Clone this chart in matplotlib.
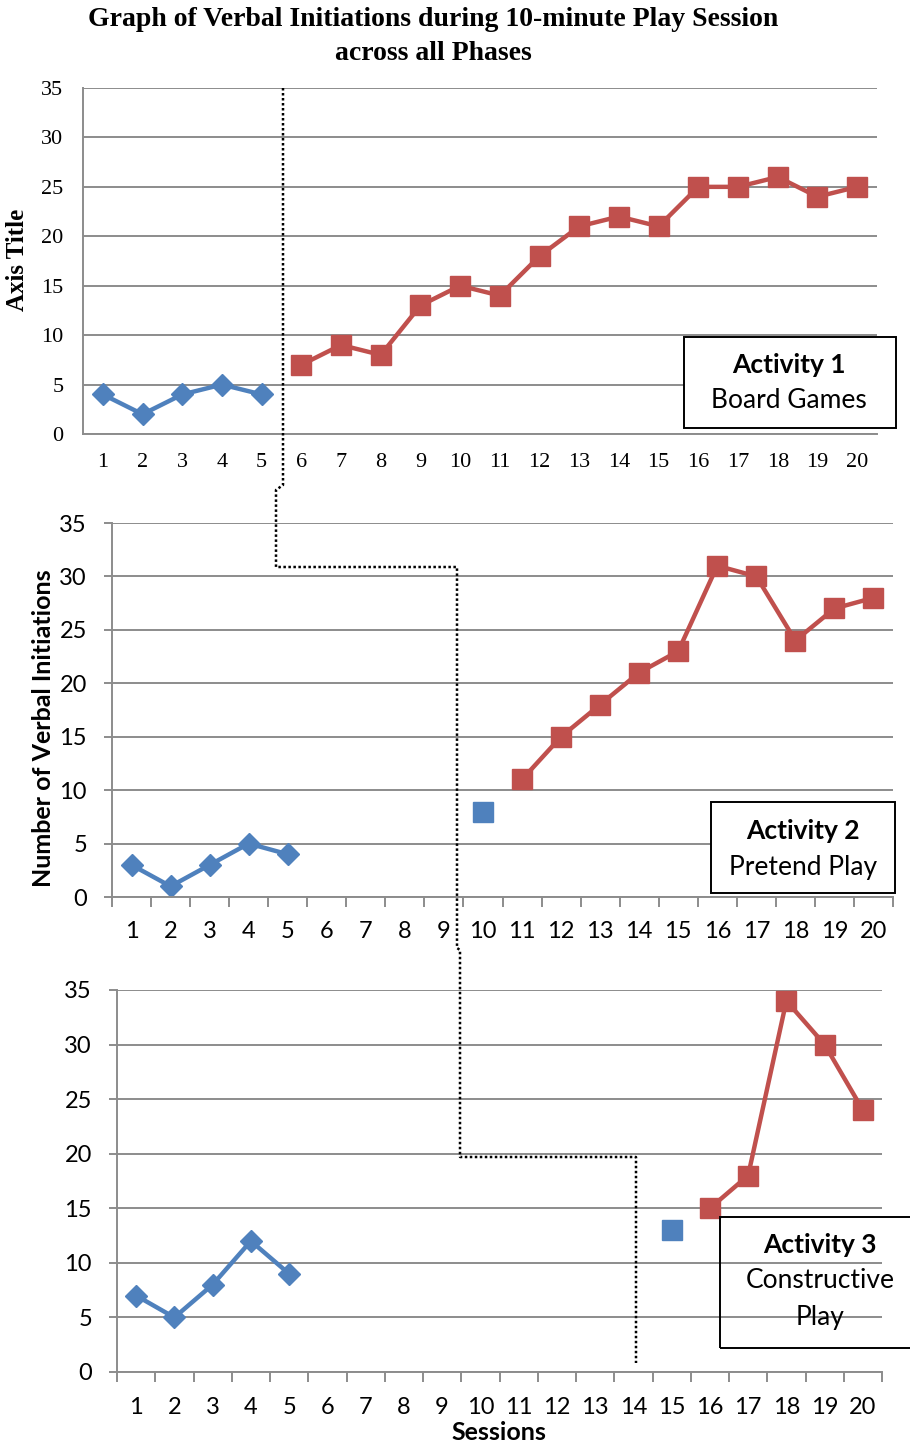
import matplotlib.pyplot as plt
from matplotlib.lines import Line2D
from matplotlib.patches import Rectangle

# data
sessions = list(range(1, 21))
base_x = [1, 2, 3, 4, 5]

a1_base = [4, 2, 4, 5, 4]
a1_treat_x = list(range(6, 21))
a1_treat = [7, 9, 8, 13, 15, 14, 18, 21, 22, 21, 25, 25, 26, 24, 25]

a2_base = [3, 1, 3, 5, 4]
a2_probe_x = [10]
a2_probe = [8]
a2_treat_x = list(range(11, 21))
a2_treat = [11, 15, 18, 21, 23, 31, 30, 24, 27, 28]

a3_base = [7, 5, 8, 12, 9]
a3_probe_x = [15]
a3_probe = [13]
a3_treat_x = list(range(16, 21))
a3_treat = [15, 18, 34, 30, 24]

BLUE = '#4F81BD'
RED = '#C0504D'
GRID = '#8c8c8c'
SERIF = 'Liberation Serif'
SANS = 'Lato'

W, H = 910, 1446
fig = plt.figure(figsize=(W / 100, H / 100), dpi=100)


def add_axes(left, top, right, bottom):
    return fig.add_axes([left / W, 1 - bottom / H, (right - left) / W, (bottom - top) / H])


def style(ax, font, size, ticks, ypad, xpad):
    ax.set_xlim(0.5, 20.5)
    ax.set_ylim(0, 35)
    ax.set_yticks(range(0, 36, 5))
    ax.grid(axis='y', color=GRID, lw=1.4)
    ax.set_axisbelow(True)
    for s in ['top', 'right']:
        ax.spines[s].set_visible(False)
    for s in ['left', 'bottom']:
        ax.spines[s].set_color(GRID)
        ax.spines[s].set_linewidth(1.4)
    if ticks:
        ax.set_xticks([i + 0.5 for i in range(21)])
        ax.set_xticklabels([])
        ax.set_xticks(sessions, minor=True)
        ax.set_xticklabels([str(s) for s in sessions], minor=True)
        ax.tick_params(axis='x', which='major', length=7, width=1.4, color=GRID)
        ax.tick_params(axis='x', which='minor', length=0, pad=xpad,
                       labelsize=size, labelfontfamily=font)
        ax.tick_params(axis='y', length=6, width=1.4, color=GRID, pad=ypad,
                       labelsize=size, labelfontfamily=font)
    else:
        ax.set_xticks(sessions)
        ax.tick_params(axis='x', length=0, pad=xpad, labelsize=size, labelfontfamily=font)
        ax.tick_params(axis='y', length=0, pad=ypad, labelsize=size, labelfontfamily=font)


def plot_series(ax, bx, by, tx, ty, px_=None, py=None):
    ax.plot(bx, by, color=BLUE, lw=3.2, marker='D', ms=11, mec=BLUE, clip_on=False)
    if px_:
        ax.plot(px_, py, ls='none', color=BLUE, marker='s', ms=15, mec=BLUE)
    ax.plot(tx, ty, color=RED, lw=3.2, marker='s', ms=15, mec=RED, clip_on=False)


ax1 = add_axes(83, 88, 877, 434)
style(ax1, SERIF, 16, False, 14, 14)
plot_series(ax1, base_x, a1_base, a1_treat_x, a1_treat)

ax2 = add_axes(112, 523, 893, 897)
style(ax2, SANS, 17, True, 12, 17)
plot_series(ax2, base_x, a2_base, a2_treat_x, a2_treat, a2_probe_x, a2_probe)

ax3 = add_axes(117, 990, 882, 1372)
style(ax3, SANS, 17, True, 12, 18)
plot_series(ax3, base_x, a3_base, a3_treat_x, a3_treat, a3_probe_x, a3_probe)

# titles and axis labels
fig.text(433 / W, 1 - 20 / H, 'Graph of Verbal Initiations during 10-minute Play Session',
         ha='center', va='center', family=SERIF, weight='bold', fontsize=20)
fig.text(433 / W, 1 - 54 / H, 'across all Phases',
         ha='center', va='center', family=SERIF, weight='bold', fontsize=20)
fig.text(18 / W, 1 - 260 / H, 'Axis Title', rotation=90, ha='center', va='center',
         family=SERIF, weight='bold', fontsize=18)
fig.text(44 / W, 1 - 728 / H, 'Number of Verbal Initiations', rotation=90, ha='center', va='center',
         family=SANS, weight='bold', fontsize=18)
fig.text(499 / W, 1 - 1432 / H, 'Sessions', ha='center', va='center',
         family=SANS, weight='bold', fontsize=18)

# phase change line
phase_px = [(283, 88), (283, 485), (276, 490), (276, 567), (457, 567), (457, 948),
            (460, 950), (460, 1157), (636, 1157), (636, 1363)]
fig.add_artist(Line2D([p[0] / W for p in phase_px], [1 - p[1] / H for p in phase_px],
                      transform=fig.transFigure, color='black', lw=1.8, ls=(0, (1, 1))))

# activity boxes
boxes = [
    ((684, 337, 896, 428), 'white', 'Activity 1', ['Board Games'], 789, [365, 401]),
    ((711, 802, 895, 893), 'white', 'Activity 2', ['Pretend Play'], 803, [831, 867]),
    ((720, 1217, 930, 1348), 'none', 'Activity 3', ['Constructive', 'Play'], 820, [1245, 1281, 1318]),
]
for (l, t, r, b), fc, head, lines, cx, ys in boxes:
    fig.add_artist(Rectangle((l / W, 1 - b / H), (r - l) / W, (b - t) / H,
                             transform=fig.transFigure, fc=fc, ec='black', lw=1.4))
    fig.text(cx / W, 1 - ys[0] / H, head, ha='center', va='center',
             family=SANS, weight='bold', fontsize=19)
    for line, y in zip(lines, ys[1:]):
        fig.text(cx / W, 1 - y / H, line, ha='center', va='center', family=SANS, fontsize=19)

fig.savefig('out.png', dpi=100)
